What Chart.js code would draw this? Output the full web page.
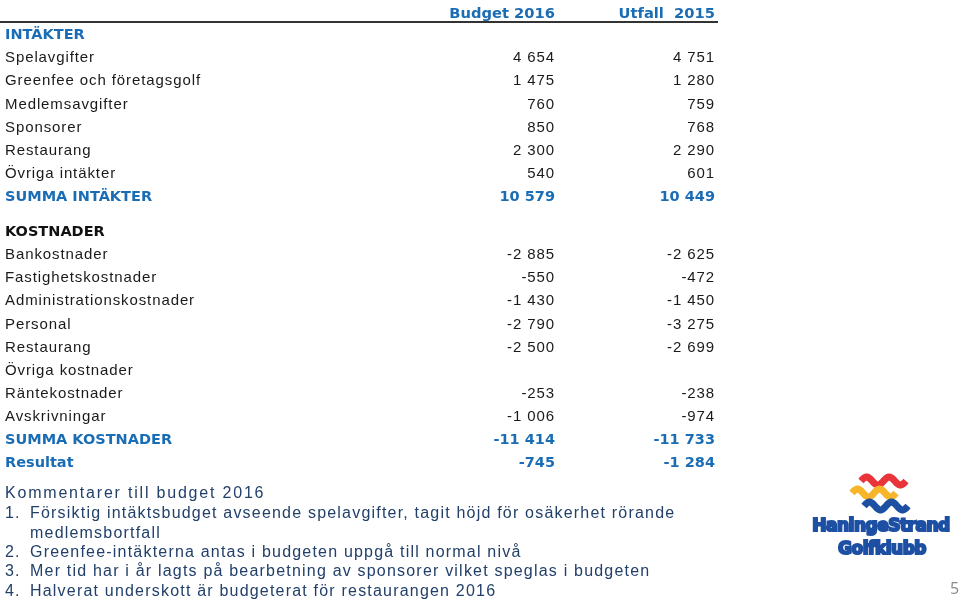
<!DOCTYPE html>
<html>
<head>
<meta charset="utf-8">
<script src="https://cdn.jsdelivr.net/npm/chart.js@4.4.1/dist/chart.umd.min.js"></script>
<style>
  html, body { margin: 0; padding: 0; background: #fff; }
  canvas { display: block; }
</style>
</head>
<body>
<canvas id="budgetTable" width="960" height="605"></canvas>
<script>
// Table data
const columnTitles = ['Budget 2016', 'Utfall  2015'];
const rowLabels = [
    'INTÄKTER', 'Spelavgifter', 'Greenfee och företagsgolf', 'Medlemsavgifter', 'Sponsorer',
    'Restaurang', 'Övriga intäkter', 'SUMMA INTÄKTER',
    'KOSTNADER', 'Bankostnader', 'Fastighetskostnader', 'Administrationskostnader', 'Personal',
    'Restaurang', 'Övriga kostnader', 'Räntekostnader', 'Avskrivningar', 'SUMMA KOSTNADER', 'Resultat'
];
const budget2016 = [null, 4654, 1475, 760, 850, 2300, 540, 10579,
    null, -2885, -550, -1430, -2790, -2500, null, -253, -1006, -11414, -745];
const utfall2015 = [null, 4751, 1280, 759, 768, 2290, 601, 10449,
    null, -2625, -472, -1450, -3275, -2699, null, -238, -974, -11733, -1284];

const sectionHeads = ['INTÄKTER', 'KOSTNADER'];
const totalRows = ['SUMMA INTÄKTER', 'SUMMA KOSTNADER', 'Resultat'];

const commentTitle = 'Kommentarer till budget 2016';
const comments = [
    ['1.', 'Försiktig intäktsbudget avseende spelavgifter, tagit höjd för osäkerhet rörande'],
    ['', 'medlemsbortfall'],
    ['2.', 'Greenfee-intäkterna antas i budgeten uppgå till normal nivå'],
    ['3.', 'Mer tid har i år lagts på bearbetning av sponsorer vilket speglas i budgeten'],
    ['4.', 'Halverat underskott är budgeterat för restaurangen 2016']
];

const BLUE = '#1a6db5';
const NAVY = '#23406a';

// row position on the y scale: half a row of extra space before KOSTNADER
function rowPos(i) {
    return i >= rowLabels.indexOf('KOSTNADER') ? i + 0.5 : i;
}

function fmt(v) {
    if (v === null) return '';
    const s = Math.abs(v).toString().replace(/\B(?=(\d{3})+(?!\d))/g, ' ');
    return (v < 0 ? '-' : '') + s;
}

function isBlue(label) {
    return totalRows.includes(label) || label === 'INTÄKTER';
}

// Draws labels, numbers, comments and logo
const tablePlugin = {
    id: 'tablePlugin',
    afterDatasetsDraw(chart) {
        const ctx = chart.ctx;
        const y = chart.scales.y;
        ctx.save();
        ctx.textBaseline = 'middle';

        // column headers
        const headY = y.getPixelForValue(-0.92);
        ctx.font = 'bold 14.7px "DejaVu Sans"';
        ctx.fillStyle = BLUE;
        ctx.textAlign = 'right';
        chart.data.datasets.forEach((ds, d) => {
            const meta = chart.getDatasetMeta(d);
            ctx.fillText(ds.label, meta.data[0].x, headY);
        });

        // rule under header
        ctx.strokeStyle = '#333';
        ctx.lineWidth = 2;
        ctx.beginPath();
        ctx.moveTo(0, 22);
        ctx.lineTo(718, 22);
        ctx.stroke();

        // row labels
        ctx.textAlign = 'left';
        rowLabels.forEach((label, i) => {
            const py = y.getPixelForValue(rowPos(i));
            if (sectionHeads.includes(label) || totalRows.includes(label)) {
                ctx.font = 'bold 14.5px "DejaVu Sans"';
                ctx.letterSpacing = '0px';
                ctx.fillStyle = isBlue(label) ? BLUE : '#111';
            } else {
                ctx.font = '15px "Liberation Sans"';
                ctx.letterSpacing = '0.9px';
                ctx.fillStyle = '#1a1a1a';
            }
            ctx.fillText(label, 5, py);
        });

        // values
        ctx.textAlign = 'right';
        chart.data.datasets.forEach((ds, d) => {
            const meta = chart.getDatasetMeta(d);
            meta.data.forEach((pt, i) => {
                const v = ds.data[i].v;
                if (v === null) return;
                const label = rowLabels[i];
                if (totalRows.includes(label)) {
                    ctx.font = 'bold 14.5px "DejaVu Sans"';
                    ctx.letterSpacing = '0px';
                    ctx.fillStyle = BLUE;
                } else {
                    ctx.font = '15px "Liberation Sans"';
                    ctx.letterSpacing = '0.9px';
                    ctx.fillStyle = '#1a1a1a';
                }
                ctx.fillText(fmt(v), pt.x, pt.y);
            });
        });

        // comments
        ctx.textAlign = 'left';
        ctx.fillStyle = NAVY;
        ctx.font = '16px "Liberation Sans"';
        ctx.letterSpacing = '1.8px';
        ctx.fillText(commentTitle, 5, 494);
        ctx.letterSpacing = '1.2px';
        comments.forEach((c, i) => {
            const py = 514 + i * 19.3;
            ctx.fillText(c[0], 5, py);
            ctx.fillText(c[1], 30, py);
        });

        // page number
        ctx.letterSpacing = '0px';
        ctx.fillStyle = '#8a8a8a';
        ctx.font = '16px "Open Sans"';
        ctx.fillText('5', 950, 589);

        drawLogo(ctx);
        ctx.restore();
    }
};

function wave(ctx, x0, x1, yc, color) {
    ctx.strokeStyle = color;
    ctx.lineWidth = 7;
    ctx.lineCap = 'butt';
    ctx.beginPath();
    for (let x = x0; x <= x1; x += 1) {
        const t = (x - x0) / (x1 - x0);
        const py = yc - 4 * Math.sin(t * Math.PI * 4);
        if (x === x0) ctx.moveTo(x, py); else ctx.lineTo(x, py);
    }
    ctx.stroke();
}

function drawLogo(ctx) {
    wave(ctx, 861, 906, 481, '#e8343a');
    wave(ctx, 852, 896, 493, '#f7b52a');
    wave(ctx, 864, 908, 506, '#1d4fa3');

    ctx.textAlign = 'center';
    ctx.textBaseline = 'middle';
    ctx.font = 'bold 17px "DejaVu Sans"';
    ctx.letterSpacing = '-0.5px';
    ctx.lineWidth = 2;
    ctx.strokeStyle = '#1d4fa3';
    ctx.fillStyle = '#1d4fa3';
    ctx.strokeText('HaningeStrand', 881, 527);
    ctx.fillText('HaningeStrand', 881, 527);
    ctx.strokeText('Golfklubb', 882, 550);
    ctx.fillText('Golfklubb', 882, 550);
}

// x anchors for the two value columns (right edges)
const colX = [555, 715];

new Chart(document.getElementById('budgetTable'), {
    type: 'scatter',
    data: {
        datasets: [budget2016, utfall2015].map((series, d) => ({
            label: columnTitles[d],
            data: series.map((v, i) => ({ x: colX[d], y: rowPos(i), v: v })),
            pointRadius: 0,
            showLine: false
        }))
    },
    options: {
        responsive: false,
        animation: false,
        devicePixelRatio: 1,
        layout: { padding: 0 },
        plugins: { legend: { display: false }, tooltip: { enabled: false } },
        scales: {
            x: { type: 'linear', min: 0, max: 960, display: false },
            y: { type: 'linear', min: -35 / 23.15, max: 570 / 23.15, reverse: true, display: false }
        }
    },
    plugins: [tablePlugin]
});
</script>
</body>
</html>
